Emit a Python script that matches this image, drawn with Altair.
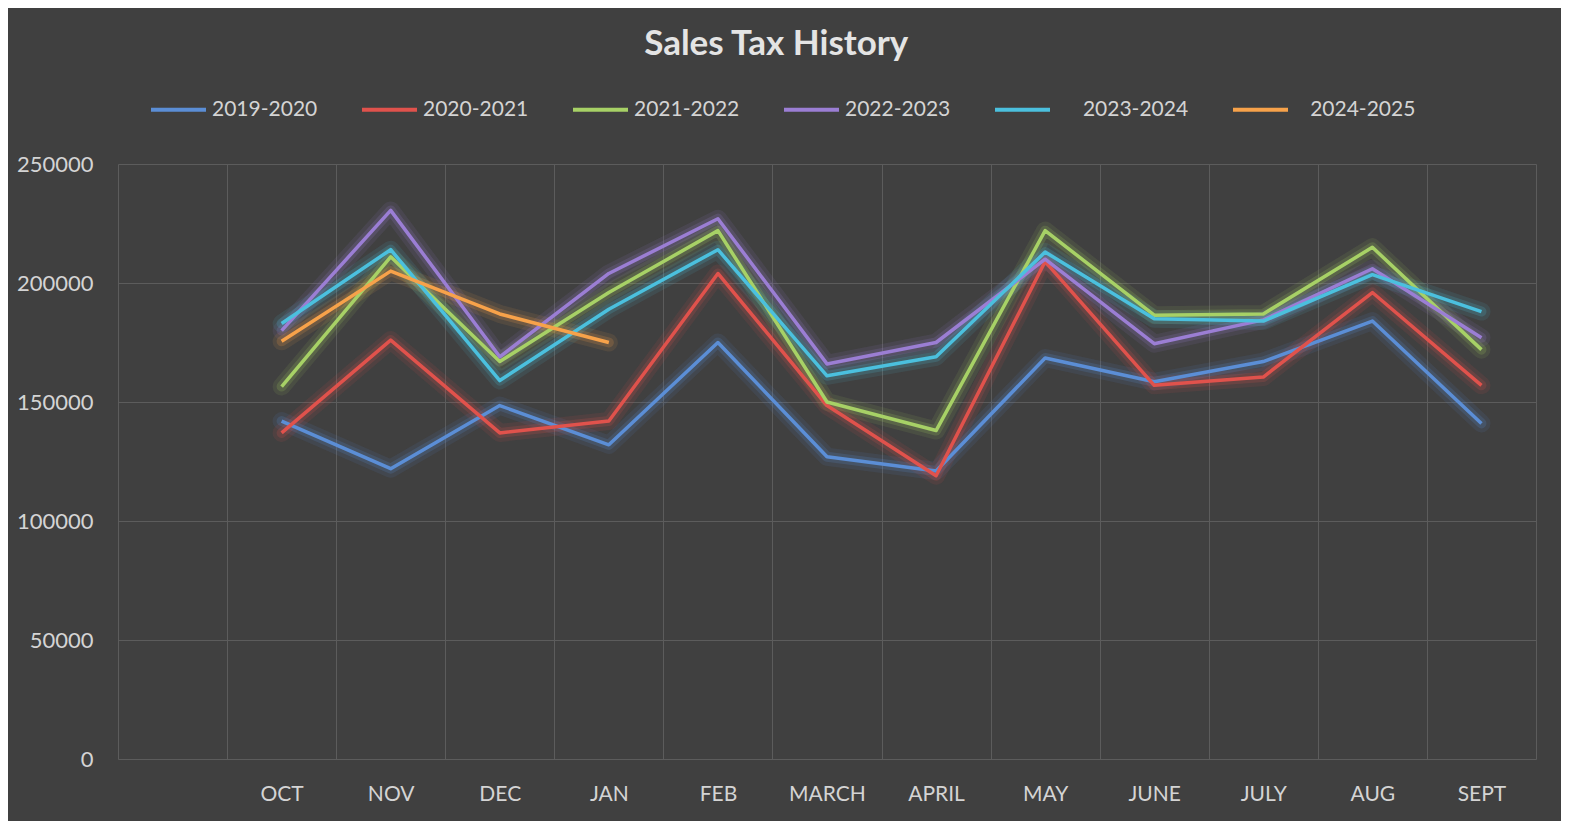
import altair as alt
import pandas as pd

months = ["OCT", "NOV", "DEC", "JAN", "FEB", "MARCH", "APRIL", "MAY", "JUNE", "JULY", "AUG", "SEPT"]
x_domain = [""] + months
seasons = ["2019-2020", "2020-2021", "2021-2022", "2022-2023", "2023-2024", "2024-2025"]

s2019_2020 = [142000, 122000, 148500, 132000, 175000, 127000, 121000, 168500, 158500, 167000, 184000, 141000]
s2020_2021 = [137000, 176000, 137000, 142000, 204000, 148500, 119000, 209000, 157000, 160500, 196000, 157000]
s2021_2022 = [156500, 211000, 167000, 196000, 222000, 150000, 138000, 222000, 186500, 187000, 215000, 172000]
s2022_2023 = [180000, 230500, 169000, 204000, 227000, 166000, 175000, 210000, 174500, 184500, 206000, 177000]
s2023_2024 = [183000, 214000, 159000, 189000, 214000, 161000, 169000, 213000, 185000, 184000, 203500, 188000]
s2024_2025 = [175500, 205000, 187000, 175000]

series_values = [s2019_2020, s2020_2021, s2021_2022, s2022_2023, s2023_2024, s2024_2025]
colors = ["#5B8ED6", "#E0524C", "#A7D166", "#9B7ED4", "#4BC0DE", "#F7A24A"]
y_ticks = [0, 50000, 100000, 150000, 200000, 250000]

rows = []
for season, vals in zip(seasons, series_values):
    for i, v in enumerate(vals):
        rows.append({"season": season, "month": months[i], "idx": i, "value": v})
df = pd.DataFrame(rows)

TEXT = "#D4D4D4"
GRID = "#5C5C5C"
BG = "#404040"
FONT = "Lato"

x_enc = alt.X(
    "month:N",
    sort=x_domain,
    bandPosition=0.5,
    scale=alt.Scale(type="band", domain=x_domain, paddingInner=0, paddingOuter=0),
    axis=alt.Axis(title=None, labelAngle=0, labelPadding=24, ticks=False, domain=False,
                  grid=True, tickBand="extent", gridColor=GRID, gridWidth=1,
                  labelFontSize=21, labelColor=TEXT, labelFont=FONT),
)
y_enc = alt.Y(
    "value:Q",
    scale=alt.Scale(domain=[0, 250000], nice=False),
    axis=alt.Axis(title=None, values=y_ticks, format="d", ticks=False, domain=False,
                  labelPadding=25, gridColor=GRID, gridWidth=1,
                  labelFontSize=22, labelColor=TEXT, labelFont=FONT),
)
cscale = alt.Scale(domain=seasons, range=colors)

zw = "\u200b"
nb = "\u00a0"
label_expr = ("datum.label == '2023-2024' ? '" + zw + nb * 5 + "2023-2024' : "
              "datum.label == '2024-2025' ? '" + zw + nb * 3 + "2024-2025' : datum.label")

base = alt.Chart(df)

glow1 = base.mark_line(strokeWidth=18, opacity=0.10, strokeJoin="round", strokeCap="round").encode(
    x=x_enc, y=y_enc, order="idx:Q",
    color=alt.Color("season:N", scale=cscale, legend=None),
)
glow2 = base.mark_line(strokeWidth=10, opacity=0.18, strokeJoin="round", strokeCap="round").encode(
    x=x_enc, y=y_enc, order="idx:Q",
    color=alt.Color("season:N", scale=cscale, legend=None),
)
lines = base.mark_line(strokeWidth=3.5, strokeJoin="round").encode(
    x=x_enc, y=y_enc, order="idx:Q",
    color=alt.Color(
        "season:N", scale=cscale,
        legend=alt.Legend(
            title=None, orient="none", legendX=31, legendY=-84, direction="horizontal",
            labelFontSize=21, labelColor=TEXT, labelFont=FONT, labelOffset=4,
            symbolType="stroke", symbolSize=3025, symbolStrokeWidth=4, symbolOpacity=1,
            columnPadding=36, padding=0, labelExpr=label_expr,
        ),
    ),
)

chart = (
    alt.layer(glow1, glow2, lines)
    .resolve_legend(color="independent")
    .properties(
        width=1418,
        height=595,
        autosize=alt.AutoSizeParams(type="none"),
        padding={"left": 110, "top": 156, "right": 25, "bottom": 62},
        title=alt.TitleParams("Sales Tax History", fontSize=35, font=FONT, fontWeight="bold",
                              color="#E4E4E4", anchor="middle", frame="bounds", offset=18),
    )
    .configure(background=BG)
    .configure_view(stroke=None)
)

chart.save("out.html", embed_options={"renderer": "svg", "actions": False})
